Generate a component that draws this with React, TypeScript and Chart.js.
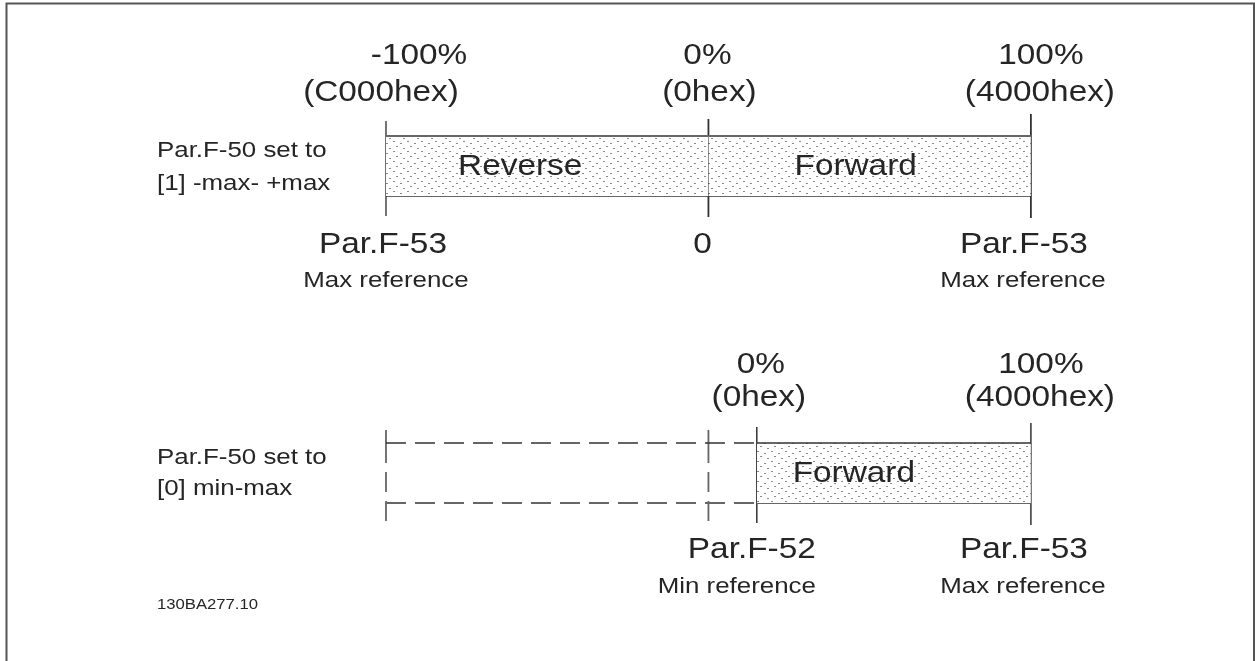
import React, { useEffect, useRef } from "react";
import { Chart, registerables } from "chart.js";

Chart.register(...registerables);

// ---------- content / data ----------
const ROW_TOP = 1;
const ROW_BOTTOM = 2;

const ROW_CAPTION_TOP = ["Par.F-50 set to", "[1] -max- +max"];
const ROW_CAPTION_BOTTOM = ["Par.F-50 set to", "[0] min-max"];

const TOP_TICKS = [-100, 0, 100];
const TOP_PCT_LABELS = ["-100%", "0%", "100%"];
const TOP_HEX_LABELS = ["(C000hex)", "(0hex)", "(4000hex)"];
const TOP_PAR_LABELS = ["Par.F-53", "0", "Par.F-53"];
const TOP_REF_LABELS = ["Max reference", "", "Max reference"];
const TOP_SEGMENTS: [number, number][] = [
  [-100, 0],
  [0, 100],
];
const TOP_SEGMENT_NAMES = ["Reverse", "Forward"];

const BOTTOM_TICKS = [15, 100];
const BOTTOM_PCT_LABELS = ["0%", "100%"];
const BOTTOM_HEX_LABELS = ["(0hex)", "(4000hex)"];
const BOTTOM_PAR_LABELS = ["Par.F-52", "Par.F-53"];
const BOTTOM_REF_LABELS = ["Min reference", "Max reference"];
const BOTTOM_SEGMENT: [number, number] = [15, 100];
const BOTTOM_SEGMENT_NAME = "Forward";
const BOTTOM_UNUSED_TICKS = [-100, 0];

const DRAWING_CODE = "130BA277.10";

// ---------- layout / style ----------
const W = 1255;
const H = 661;
const X_MIN = -219.7;
const X_MAX = 169.5;
const Y_MIN = 0.4593;
const Y_MAX = 2.6124;
const PX = (Y_MAX - Y_MIN) / H; // one pixel in y data units
const BAR_HALF = 30 * PX;
const FONT = "'Liberation Sans', Arial, sans-serif";
const STRETCH = 1.15;
const TEXT_COLOR = "#252525";
const LINE_DARK = "#333";
const LINE_GRAY = "#666";

function makePattern(): CanvasPattern | string {
  const c = document.createElement("canvas");
  c.width = 14;
  c.height = 10;
  const g = c.getContext("2d");
  if (!g) return "#eee";
  g.fillStyle = "#ffffff";
  g.fillRect(0, 0, 14, 10);
  g.fillStyle = "#8a8a8a";
  const dots = [
    [1, 1],
    [8, 3],
    [4, 6],
    [11, 8],
  ];
  dots.forEach(([x, y]) => g.fillRect(x, y, 2, 1));
  const p = g.createPattern(c, "repeat");
  return p || "#eee";
}

function seg(
  x1: number,
  y1: number,
  x2: number,
  y2: number,
  color: string,
  width: number,
  dash: number[] = []
) {
  return {
    type: "line" as const,
    data: [
      { x: x1, y: y1 },
      { x: x2, y: y2 },
    ],
    borderColor: color,
    borderWidth: width,
    borderDash: dash,
    pointRadius: 0,
    fill: false,
    showLine: true,
    tension: 0,
  };
}

function drawText(
  ctx: CanvasRenderingContext2D,
  text: string,
  x: number,
  y: number,
  size: number,
  align: CanvasTextAlign = "center"
) {
  if (!text) return;
  ctx.save();
  ctx.translate(x, y);
  ctx.scale(STRETCH, 1);
  ctx.font = `${size}px ${FONT}`;
  ctx.fillStyle = TEXT_COLOR;
  ctx.textAlign = align;
  ctx.textBaseline = "middle";
  ctx.fillText(text, 0, 0);
  ctx.restore();
}

export default function App() {
  const ref = useRef<HTMLCanvasElement | null>(null);

  useEffect(() => {
    if (!ref.current) return;
    const pattern = makePattern();
    const datasets: any[] = [];

    // top row: stippled bars
    TOP_SEGMENTS.forEach(([a, b]) => {
      datasets.push({
        ...seg(a, ROW_TOP - BAR_HALF, b, ROW_TOP - BAR_HALF, LINE_GRAY, 2),
        fill: { value: ROW_TOP + BAR_HALF },
        backgroundColor: pattern,
      });
    });
    datasets.push(
      seg(TOP_SEGMENTS[0][0], ROW_TOP + BAR_HALF, TOP_SEGMENTS[1][1], ROW_TOP + BAR_HALF, LINE_DARK, 1.5)
    );
    const topUp = [45, 47, 52];
    const topDown = [50, 51, 52];
    TOP_TICKS.forEach((t, i) => {
      datasets.push(
        seg(t, ROW_TOP - topUp[i] * PX, t, ROW_TOP + topDown[i] * PX, i === 0 ? LINE_GRAY : LINE_DARK, 1.8)
      );
    });

    // bottom row: stippled forward bar
    datasets.push({
      ...seg(BOTTOM_SEGMENT[0], ROW_BOTTOM - BAR_HALF, BOTTOM_SEGMENT[1], ROW_BOTTOM - BAR_HALF, LINE_DARK, 1.5),
      fill: { value: ROW_BOTTOM + BAR_HALF },
      backgroundColor: pattern,
    });
    datasets.push(
      seg(BOTTOM_SEGMENT[0], ROW_BOTTOM + BAR_HALF, BOTTOM_SEGMENT[1], ROW_BOTTOM + BAR_HALF, LINE_GRAY, 2)
    );
    const botUp = [46, 50];
    const botDown = [50, 52];
    BOTTOM_TICKS.forEach((t, i) => {
      datasets.push(seg(t, ROW_BOTTOM - botUp[i] * PX, t, ROW_BOTTOM + botDown[i] * PX, LINE_DARK, 1.5));
    });

    // bottom row: dashed unused range
    const dash = [20, 9];
    datasets.push(
      seg(BOTTOM_UNUSED_TICKS[0], ROW_BOTTOM - BAR_HALF, BOTTOM_SEGMENT[0], ROW_BOTTOM - BAR_HALF, LINE_DARK, 1.5, dash)
    );
    datasets.push(
      seg(BOTTOM_UNUSED_TICKS[0], ROW_BOTTOM + BAR_HALF, BOTTOM_SEGMENT[0], ROW_BOTTOM + BAR_HALF, LINE_GRAY, 2, dash)
    );
    BOTTOM_UNUSED_TICKS.forEach((t) => {
      datasets.push(seg(t, ROW_BOTTOM - BAR_HALF, t, ROW_BOTTOM + 50 * PX, LINE_GRAY, 1.8, dash));
      datasets.push(seg(t, ROW_BOTTOM - 43 * PX, t, ROW_BOTTOM - BAR_HALF, LINE_GRAY, 1.8));
    });

    const labelsPlugin = {
      id: "diagramText",
      beforeDraw(chart: any) {
        const ctx = chart.ctx as CanvasRenderingContext2D;
        ctx.save();
        ctx.fillStyle = "#fff";
        ctx.fillRect(0, 0, chart.width, chart.height);
        ctx.strokeStyle = "#555";
        ctx.lineWidth = 2;
        ctx.beginPath();
        ctx.moveTo(6.5, chart.height);
        ctx.lineTo(6.5, 3.5);
        ctx.lineTo(chart.width - 1, 3.5);
        ctx.lineTo(chart.width - 1, chart.height);
        ctx.stroke();
        ctx.restore();
      },
      afterDatasetsDraw(chart: any) {
        const ctx = chart.ctx as CanvasRenderingContext2D;
        const xs = chart.scales.x;
        const ys = chart.scales.y;
        const px = (v: number) => xs.getPixelForValue(v);
        const yTop = ys.getPixelForValue(ROW_TOP);
        const yBot = ys.getPixelForValue(ROW_BOTTOM);
        const BIG = 29;
        const SMALL = 22.5;

        // top row header labels
        const topPctDx = [33, -1, 10];
        const topHexDx = [-5, 1, 9];
        const topParDx = [-3, -6, -7];
        const topRefDx = [0, 0, -8];
        TOP_TICKS.forEach((t, i) => {
          drawText(ctx, TOP_PCT_LABELS[i], px(t) + topPctDx[i], yTop - 110, BIG);
          drawText(ctx, TOP_HEX_LABELS[i], px(t) + topHexDx[i], yTop - 73, BIG);
          drawText(ctx, TOP_PAR_LABELS[i], px(t) + topParDx[i], yTop + 79, BIG);
          drawText(ctx, TOP_REF_LABELS[i], px(t) + topRefDx[i], yTop + 115, SMALL);
        });
        const segDx = [-27, -14];
        TOP_SEGMENTS.forEach(([a, b], i) => {
          drawText(ctx, TOP_SEGMENT_NAMES[i], (px(a) + px(b)) / 2 + segDx[i], yTop + 1, BIG);
        });

        // bottom row labels
        const botPctDx = [4, 10];
        const botHexDx = [2, 9];
        const botParDx = [-5, -7];
        const botRefDx = [-20, -8];
        BOTTOM_TICKS.forEach((t, i) => {
          drawText(ctx, BOTTOM_PCT_LABELS[i], px(t) + botPctDx[i], yBot - 108, BIG);
          drawText(ctx, BOTTOM_HEX_LABELS[i], px(t) + botHexDx[i], yBot - 75, BIG);
          drawText(ctx, BOTTOM_PAR_LABELS[i], px(t) + botParDx[i], yBot + 77, BIG);
          drawText(ctx, BOTTOM_REF_LABELS[i], px(t) + botRefDx[i], yBot + 114, SMALL);
        });
        drawText(
          ctx,
          BOTTOM_SEGMENT_NAME,
          (px(BOTTOM_SEGMENT[0]) + px(BOTTOM_SEGMENT[1])) / 2 - 40,
          yBot + 1,
          BIG
        );

        // row captions
        const capX = px(-100) - 229;
        drawText(ctx, ROW_CAPTION_TOP[0], capX, yTop - 15, SMALL, "left");
        drawText(ctx, ROW_CAPTION_TOP[1], capX, yTop + 18, SMALL, "left");
        drawText(ctx, ROW_CAPTION_BOTTOM[0], capX, yBot - 15, SMALL, "left");
        drawText(ctx, ROW_CAPTION_BOTTOM[1], capX, yBot + 16, SMALL, "left");
        drawText(ctx, DRAWING_CODE, capX, yBot + 132, 14.5, "left");
      },
    };

    const chart = new Chart(ref.current, {
      type: "scatter",
      data: { datasets },
      options: {
        animation: false,
        responsive: false,
        devicePixelRatio: 1,
        layout: { padding: 0 },
        plugins: {
          legend: { display: false },
          tooltip: { enabled: false },
          title: { display: false },
        },
        events: [],
        scales: {
          x: { type: "linear", min: X_MIN, max: X_MAX, display: false },
          y: { type: "linear", min: Y_MIN, max: Y_MAX, reverse: true, display: false },
        },
      },
      plugins: [labelsPlugin],
    } as any);

    return () => chart.destroy();
  }, []);

  return (
    <div style={{ position: "fixed", left: 0, top: 0, width: W, height: H, background: "#fff" }}>
      <canvas ref={ref} width={W} height={H} style={{ display: "block", width: W, height: H }} />
    </div>
  );
}
